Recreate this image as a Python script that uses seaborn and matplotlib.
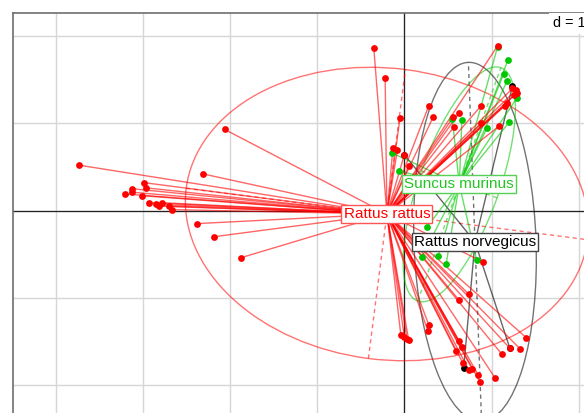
import numpy as np
import pandas as pd
import matplotlib
matplotlib.use("Agg")
import matplotlib.pyplot as plt
from matplotlib.collections import LineCollection
from matplotlib.patches import Ellipse
import seaborn as sns

# ---------------- data ----------------
groups = ["Rattus rattus", "Suncus murinus", "Rattus norvegicus"]
colors = ["#FF0000", "#00C800", "#000000"]

rattus_x = [-3.73, -2.31, -2.99, -2.96, -3.12, -3.12, -3.20, -3.01, -2.93, -2.85, -2.81, -2.78, -2.70, -2.66,
            -2.38, -2.18, -1.87, -2.06,
            -0.35, -0.22, -0.05, -0.13, -0.08, 0.00, 0.05,
            0.28, 0.33, 0.63, 0.57, 0.88, 1.07, 1.24, 1.28, 1.29, 1.26, 1.18, 1.15, 0.88, 1.09, 0.56,
            0.90, -0.04, 0.00, 0.03, 0.05, 0.28, 0.27, 0.63, 0.74, 0.63, 0.66, 0.59, 0.67, 0.74, 0.78,
            0.85, 0.87, 1.04, 1.12, 1.21, 1.33, 1.40]
rattus_y = [0.52, 0.42, 0.32, 0.26, 0.25, 0.21, 0.19, 0.17, 0.09, 0.07, 0.05, 0.09, 0.05, 0.01,
            -0.15, -0.30, -0.54, 0.93,
            1.86, 1.52, 1.06, 0.72, 0.69, 0.64, 0.51,
            1.20, 1.07, 1.12, 0.96, 1.20, 1.89, 1.40, 1.38, 1.35, 1.32, 1.23, 1.20, 1.00, 0.97, 1.07,
            -0.59, -1.43, -1.45, -1.47, -1.49, -1.31, -1.38, -1.03, -0.96, -1.50, -1.57, -1.61, -1.75,
            -1.83, -1.82, -1.89, -1.97, -1.92, -1.65, -1.58, -1.59, -1.46]

suncus_x = [1.07, 1.19, 1.14, 1.18, 1.29, 1.20, 0.95, 0.66, 0.55, -0.14, -0.06, 0.26, 0.20, 0.39, 0.48, 0.83]
suncus_y = [1.88, 1.73, 1.57, 1.49, 1.29, 1.01, 0.95, 1.04, 1.05, 0.66, 0.45, -0.19, -0.53, -0.52, -0.61, -0.57]

norv_x = [1.24, 0.68, 1.21, 0.00]
norv_y = [1.43, -1.81, -1.58, 0.64]

# group centres and ellipse parameters (semi-axes, angle in degrees)
center_x = [-0.20, 0.63, 0.81]
center_y = [-0.04, 0.30, -0.36]
semi_major = [2.32, 1.42, 2.06]
semi_minor = [1.67, 0.46, 0.70]
angle_deg = [-7.3, 70.4, 92.1]

# ---------------- build table ----------------
pts = pd.DataFrame({
    "x": rattus_x + suncus_x + norv_x,
    "y": rattus_y + suncus_y + norv_y,
    "group": [groups[0]] * len(rattus_x) + [groups[1]] * len(suncus_x) + [groups[2]] * len(norv_x),
})

sns.set_style("white")
plt.rcParams["font.family"] = ["Liberation Sans", "DejaVu Sans"]

W, H = 584, 413
fig = plt.figure(figsize=(W / 100, H / 100), dpi=100)

xmin, xmax = -4.4874, 2.8
ymin, ymax = -2.8, 2.2649
scale = 87.21
left_px, top_px = 13, 13
ax = fig.add_axes([left_px / W, 1 - (top_px + (ymax - ymin) * scale) / H,
                   (xmax - xmin) * scale / W, (ymax - ymin) * scale / H])
ax.set_xlim(xmin, xmax)
ax.set_ylim(ymin, ymax)

# grid
for gx in range(-4, 3):
    ax.axvline(gx, color="#d6d6d6", lw=1.0, zorder=0)
for gy in range(-2, 3):
    ax.axhline(gy, color="#d6d6d6", lw=1.0, zorder=0)
ax.axvline(0, color="#222222", lw=0.9, zorder=1)
ax.axhline(0, color="#222222", lw=0.9, zorder=1)

ax.set_xticks([])
ax.set_yticks([])
for s in ["left", "top"]:
    ax.spines[s].set_color("#6e6e6e")
    ax.spines[s].set_linewidth(1.2)
for s in ["right", "bottom"]:
    ax.spines[s].set_visible(False)

# draw groups: norvegicus first, then suncus, then rattus on top
order = [2, 1, 0]
for gi in order:
    g = groups[gi]
    col = colors[gi]
    sub = pts[pts["group"] == g]
    cx, cy = center_x[gi], center_y[gi]
    a, b, ang = semi_major[gi], semi_minor[gi], angle_deg[gi]
    alpha_l = 0.6
    # ellipse
    e = Ellipse((cx, cy), 2 * a, 2 * b, angle=ang, fill=False, edgecolor=col,
                lw=1.0, alpha=0.55, zorder=2)
    ax.add_patch(e)
    # ellipse axes (dashed)
    t = np.deg2rad(ang)
    ux, uy = np.cos(t), np.sin(t)
    vx, vy = -np.sin(t), np.cos(t)
    ax.plot([cx - a * ux, cx + a * ux], [cy - a * uy, cy + a * uy], color=col,
            lw=1.0, ls=(0, (3, 2.5)), alpha=0.55, zorder=2)
    ax.plot([cx - b * vx, cx + b * vx], [cy - b * vy, cy + b * vy], color=col,
            lw=1.0, ls=(0, (3, 2.5)), alpha=0.55, zorder=2)
    # star segments
    segs = [[(cx, cy), (px, py)] for px, py in zip(sub["x"], sub["y"])]
    lc = LineCollection(segs, colors=col, linewidths=1.0, alpha=alpha_l, zorder=3)
    ax.add_collection(lc)

for gi in order:
    sub = pts[pts["group"] == groups[gi]]
    sns.scatterplot(data=sub, x="x", y="y", color=colors[gi], s=24, linewidth=0,
                    ax=ax, legend=False, zorder=4)

# labels
edge_cols = ["#ff5555", "#55d055", "#444444"]
text_cols = ["#FF0000", "#22C422", "#000000"]
for gi in range(3):
    ax.text(center_x[gi], center_y[gi], groups[gi], ha="center", va="center",
            fontsize=11, color=text_cols[gi], zorder=6,
            bbox=dict(boxstyle="square,pad=0.14", fc="white", ec=edge_cols[gi], lw=1.0))

ax.text(1.705, 2.10, "d = 1", ha="left", va="baseline", fontsize=10.4, color="black", zorder=6,
        bbox=dict(boxstyle="square,pad=0.25", fc="white", ec="none"))

ax.set_xlabel("")
ax.set_ylabel("")
fig.savefig("out.png", dpi=100)
